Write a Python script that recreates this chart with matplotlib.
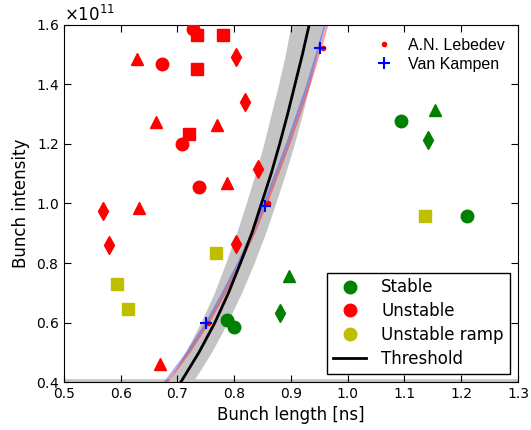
import matplotlib
matplotlib.use("Agg")
import matplotlib.pyplot as plt
from matplotlib.lines import Line2D

# measurements (bunch length [ns], bunch intensity [1e11 p])
unst_circ_x = [0.728, 0.672, 0.708, 0.738]
unst_circ_y = [1.585, 1.470, 1.199, 1.055]
unst_sq_x = [0.734, 0.781, 0.734, 0.721]
unst_sq_y = [1.568, 1.566, 1.451, 1.235]
unst_tri_x = [0.629, 0.663, 0.770, 0.788, 0.632, 0.669]
unst_tri_y = [1.487, 1.275, 1.264, 1.069, 0.986, 0.462]
unst_dia_x = [0.803, 0.819, 0.842, 0.569, 0.579, 0.803]
unst_dia_y = [1.492, 1.341, 1.117, 0.975, 0.860, 0.863]

stab_circ_x = [1.093, 1.210, 0.787, 0.799]
stab_circ_y = [1.277, 0.957, 0.607, 0.585]
stab_tri_x = [1.153, 0.896]
stab_tri_y = [1.313, 0.755]
stab_dia_x = [1.141, 0.881]
stab_dia_y = [1.215, 0.632]

ramp_sq_x = [1.137, 0.767, 0.593, 0.613]
ramp_sq_y = [0.957, 0.835, 0.731, 0.647]

# threshold curve and its uncertainty band
thr_I = [0.3, 0.4, 0.5, 0.6, 0.7, 0.8, 0.9, 1.0, 1.1, 1.2, 1.3, 1.4, 1.5, 1.6, 1.7]
thr_tau = [0.667, 0.706, 0.738, 0.766, 0.790, 0.811, 0.831, 0.848, 0.865, 0.880,
           0.894, 0.907, 0.920, 0.932, 0.943]
band_lo = [0.646, 0.684, 0.714, 0.741, 0.765, 0.785, 0.804, 0.821, 0.837, 0.852,
           0.865, 0.878, 0.890, 0.900, 0.911]
band_hi = [0.686, 0.727, 0.760, 0.788, 0.813, 0.835, 0.855, 0.873, 0.890, 0.906,
           0.920, 0.933, 0.946, 0.959, 0.971]

# analytic thresholds
leb_tau = [0.635, 0.682, 0.721, 0.755, 0.784, 0.811, 0.835, 0.857, 0.877, 0.897,
           0.915, 0.933, 0.949, 0.964, 0.979]
vk_tau = [0.631, 0.678, 0.717, 0.751, 0.780, 0.807, 0.831, 0.853, 0.873, 0.893,
          0.911, 0.929, 0.945, 0.960, 0.975]
leb_pts_x = [0.754, 0.860, 0.957]
leb_pts_y = [0.598, 1.000, 1.521]
vk_pts_x = [0.750, 0.854, 0.951]
vk_pts_y = [0.598, 0.990, 1.524]

E = 1e11


def sc(v):
    return [a * E for a in v]


fig = plt.figure(figsize=(5.31, 4.30), dpi=100)
ax = fig.add_axes([0.1205, 0.1116, 0.855, 0.8303])

ax.fill_betweenx(sc(thr_I), band_lo, band_hi, color="0.77", lw=0, zorder=1)
ax.axhline(0.4 * E, color="0.77", lw=4, zorder=1)
ax.plot(leb_tau, sc(thr_I), color="r", lw=1.5, alpha=0.4, zorder=2)
ax.plot(vk_tau, sc(thr_I), color="b", lw=1.5, alpha=0.3, zorder=2)
ax.plot(thr_tau, sc(thr_I), color="k", lw=2, zorder=3)

l1, = ax.plot(leb_pts_x, sc(leb_pts_y), ".", color="r", ms=6, label="A.N. Lebedev", zorder=4)
l2, = ax.plot(vk_pts_x, sc(vk_pts_y), "+", color="b", ms=9, mew=1.5, label="Van Kampen", zorder=4)

ms = 9
for xs, ys, m in [(unst_circ_x, unst_circ_y, "o"), (unst_sq_x, unst_sq_y, "s"),
                  (unst_tri_x, unst_tri_y, "^"), (unst_dia_x, unst_dia_y, "d")]:
    ax.plot(xs, sc(ys), m, color="r", mec="r", ms=ms, zorder=5)
for xs, ys, m in [(stab_circ_x, stab_circ_y, "o"), (stab_tri_x, stab_tri_y, "^"),
                  (stab_dia_x, stab_dia_y, "d")]:
    ax.plot(xs, sc(ys), m, color="g", mec="g", ms=ms, zorder=5)
ax.plot(ramp_sq_x, sc(ramp_sq_y), "s", color="y", mec="y", ms=ms, zorder=5)

ax.set_xlim(0.5, 1.3)
ax.set_ylim(0.4 * E, 1.6 * E)
ax.set_xticks([0.5, 0.6, 0.7, 0.8, 0.9, 1.0, 1.1, 1.2, 1.3])
ax.set_yticks(sc([0.4, 0.6, 0.8, 1.0, 1.2, 1.4, 1.6]))
ax.ticklabel_format(axis="y", style="sci", scilimits=(0, 0), useMathText=True)
ax.tick_params(direction="in", top=True, right=True, length=5, labelsize=10)
ax.yaxis.get_offset_text().set_fontsize(12)
ax.set_xlabel("Bunch length [ns]", fontsize=12)
ax.set_ylabel("Bunch intensity", fontsize=12)

leg1 = ax.legend(handles=[l1, l2], loc="upper right", frameon=False, numpoints=1,
                 prop={"family": "Liberation Sans", "size": 11.5},
                 handlelength=1.5, borderaxespad=0.4, labelspacing=0.25)
ax.add_artist(leg1)

proxies = [
    Line2D([], [], ls="none", marker="o", color="g", ms=ms, label="Stable"),
    Line2D([], [], ls="none", marker="o", color="r", ms=ms, label="Unstable"),
    Line2D([], [], ls="none", marker="o", color="y", ms=ms, label="Unstable ramp"),
    Line2D([], [], color="k", lw=2, label="Threshold"),
]
leg2 = ax.legend(handles=proxies, loc="lower right", fontsize=12, fancybox=False,
                 framealpha=1, edgecolor="k", labelspacing=0.35, borderaxespad=0.5,
                 borderpad=0.35, handletextpad=0.9)
leg2.get_frame().set_linewidth(1)

fig.savefig("out.png", dpi=100)
